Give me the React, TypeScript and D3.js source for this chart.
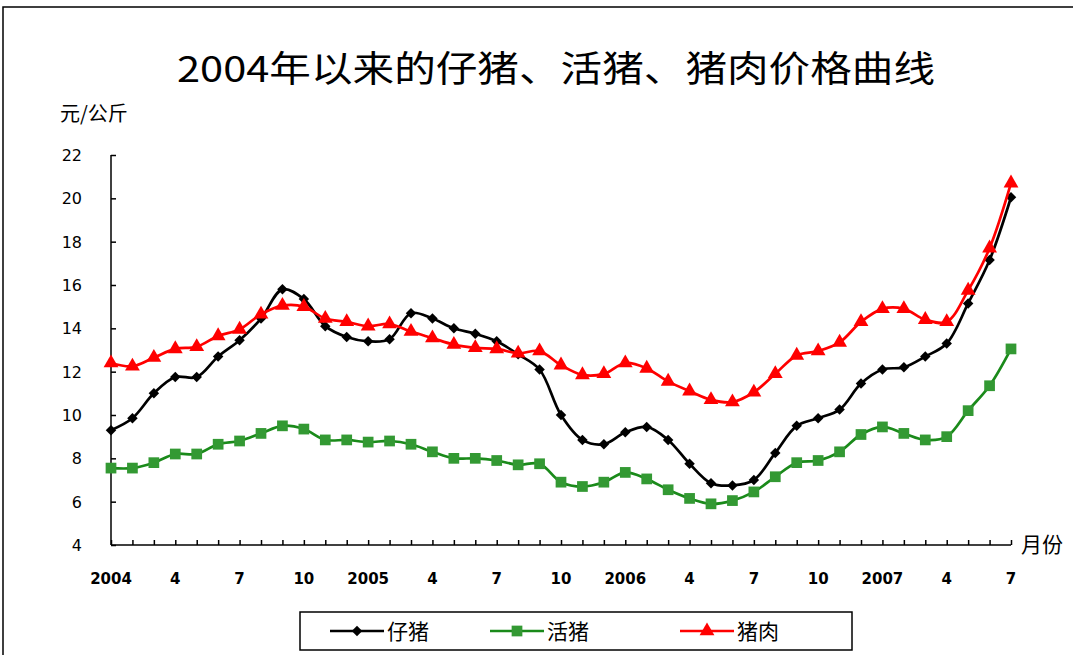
import { useEffect, useRef } from "react";
import * as d3 from "d3";

const WIDTH = 1073;
const HEIGHT = 655;
const MARGIN = { top: 155, right: 62, bottom: 110, left: 111 };

// months 2004-01 .. 2007-07
const tickLabels = [
  "2004", "", "", "4", "", "", "7", "", "", "10", "", "",
  "2005", "", "", "4", "", "", "7", "", "", "10", "", "",
  "2006", "", "", "4", "", "", "7", "", "", "10", "", "",
  "2007", "", "", "4", "", "", "7",
];

const piglet = [
  9.3, 9.85, 11.0, 11.75, 11.75, 12.7, 13.45, 14.45, 15.8, 15.35, 14.1, 13.6,
  13.4, 13.5, 14.7, 14.45, 14.0, 13.75, 13.4, 12.8, 12.1, 10.0, 8.85, 8.65,
  9.2, 9.45, 8.85, 7.75, 6.85, 6.75, 7.0, 8.25, 9.5, 9.85, 10.25, 11.45,
  12.1, 12.2, 12.7, 13.3, 15.15, 17.15, 20.05,
];
const livePig = [
  7.55, 7.55, 7.8, 8.2, 8.2, 8.65, 8.8, 9.15, 9.5, 9.35, 8.85, 8.85,
  8.75, 8.8, 8.65, 8.3, 8.0, 8.0, 7.9, 7.7, 7.75, 6.9, 6.7, 6.9,
  7.35, 7.05, 6.55, 6.15, 5.9, 6.05, 6.45, 7.15, 7.8, 7.9, 8.3, 9.1,
  9.45, 9.15, 8.85, 9.0, 10.2, 11.35, 13.05,
];
const pork = [
  12.4, 12.25, 12.65, 13.05, 13.15, 13.65, 13.95, 14.65, 15.05, 15.0, 14.45, 14.3,
  14.1, 14.2, 13.85, 13.55, 13.25, 13.1, 13.05, 12.85, 12.95, 12.3, 11.85, 11.9,
  12.4, 12.15, 11.55, 11.1, 10.7, 10.6, 11.05, 11.9, 12.75, 12.95, 13.35, 14.3,
  14.9, 14.9, 14.4, 14.3, 15.75, 17.7, 20.7,
];

const yTicks = [4, 6, 8, 10, 12, 14, 16, 18, 20, 22];

const series = [
  { name: "仔猪", values: piglet, color: "#000000", marker: "diamond" },
  { name: "活猪", values: livePig, color: "#1a8a1a", marker: "square" },
  { name: "猪肉", values: pork, color: "#ff0000", marker: "triangle" },
];

const markerFill: { [k: string]: string } = {
  diamond: "#000000",
  square: "#339933",
  triangle: "#ff0000",
};

const markerPath = (kind: string) => {
  if (kind === "diamond") return d3.symbol(d3.symbolDiamond2, 70)()!;
  if (kind === "square") return d3.symbol(d3.symbolSquare, 115)()!;
  return d3.symbol(d3.symbolTriangle, 95)()!;
};

export default function App() {
  const ref = useRef<SVGSVGElement>(null);

  useEffect(() => {
    document.body.style.margin = "0";
    const svg = d3.select(ref.current);
    svg.selectAll("*").remove();

    const boundsW = WIDTH - MARGIN.left - MARGIN.right;
    const boundsH = HEIGHT - MARGIN.top - MARGIN.bottom;

    const x = d3.scaleLinear().domain([0, tickLabels.length - 1]).range([0, boundsW]);
    const y = d3.scaleLinear().domain([4, 22]).range([boundsH, 0]);

    // outer frame
    svg.append("rect")
      .attr("x", 3).attr("y", 7)
      .attr("width", WIDTH + 20).attr("height", HEIGHT + 20)
      .attr("fill", "none").attr("stroke", "#000").attr("stroke-width", 1.5);

    svg.append("text")
      .attr("x", 556).attr("y", 82)
      .attr("text-anchor", "middle")
      .attr("font-family", "Noto Sans CJK SC")
      .attr("font-size", 36)
      .attr("textLength", 758)
      .attr("lengthAdjust", "spacingAndGlyphs")
      .text("2004年以来的仔猪、活猪、猪肉价格曲线");

    svg.append("text")
      .attr("x", 60).attr("y", 121)
      .attr("font-family", "Noto Sans CJK SC")
      .attr("font-size", 20)
      .text("元/公斤");

    const g = svg.append("g").attr("transform", `translate(${MARGIN.left},${MARGIN.top})`);

    // y axis
    const yAxis = g.append("g")
      .call(d3.axisRight(y).tickValues(yTicks).tickSize(5).tickFormat(() => ""));
    yAxis.select(".domain").attr("stroke-width", 1.5).attr("d", `M0,0V${boundsH}`);
    yAxis.selectAll(".tick line").attr("stroke-width", 1.5);
    g.selectAll(".ylab")
      .data(yTicks)
      .join("text")
      .attr("x", -29).attr("y", (d) => y(d) + 6)
      .attr("text-anchor", "end")
      .attr("font-family", "DejaVu Sans")
      .attr("font-size", 16)
      .text((d) => String(d));

    // x axis
    const xAxis = g.append("g")
      .attr("transform", `translate(0,${boundsH})`)
      .call(d3.axisTop(x).tickValues(d3.range(tickLabels.length)).tickSize(5).tickFormat(() => ""));
    xAxis.select(".domain").attr("stroke-width", 1.5).attr("d", `M0,0H${x(tickLabels.length - 1)}`);
    xAxis.selectAll(".tick line").attr("stroke-width", 1.5);
    g.selectAll(".xlab")
      .data(tickLabels.map((t, i) => ({ t, i })).filter((d) => d.t !== ""))
      .join("text")
      .attr("x", (d) => x(d.i)).attr("y", boundsH + 39)
      .attr("text-anchor", "middle")
      .attr("font-family", "DejaVu Sans")
      .attr("font-weight", "bold")
      .attr("font-size", 15)
      .text((d) => d.t);

    svg.append("text")
      .attr("x", 1021).attr("y", 552)
      .attr("font-family", "Noto Sans CJK SC")
      .attr("font-size", 21)
      .text("月份");

    const line = d3.line<number>()
      .x((_, i) => x(i))
      .y((d) => y(d))
      .curve(d3.curveCatmullRom.alpha(0.5));

    series.forEach((s) => {
      g.append("path")
        .attr("d", line(s.values))
        .attr("fill", "none")
        .attr("stroke", s.color)
        .attr("stroke-width", 2.7);
      g.selectAll(`.m-${s.marker}`)
        .data(s.values)
        .join("path")
        .attr("transform", (d, i) => `translate(${x(i)},${y(d)})`)
        .attr("d", markerPath(s.marker))
        .attr("fill", markerFill[s.marker]);
    });

    // legend
    const lg = svg.append("g");
    lg.append("rect")
      .attr("x", 300).attr("y", 612)
      .attr("width", 552).attr("height", 38)
      .attr("fill", "#fff").attr("stroke", "#000").attr("stroke-width", 1.5);
    const legendX = [330, 490, 680];
    series.forEach((s, i) => {
      const lx = legendX[i];
      lg.append("line")
        .attr("x1", lx).attr("x2", lx + 54)
        .attr("y1", 631).attr("y2", 631)
        .attr("stroke", s.color).attr("stroke-width", 2.7);
      lg.append("path")
        .attr("transform", `translate(${lx + 27},631)`)
        .attr("d", markerPath(s.marker))
        .attr("fill", markerFill[s.marker]);
      lg.append("text")
        .attr("x", lx + 57).attr("y", 639)
        .attr("font-family", "Noto Sans CJK SC")
        .attr("font-size", 21)
        .text(s.name);
    });
  }, []);

  return <svg ref={ref} width={WIDTH} height={HEIGHT} style={{ display: "block" }} />;
}
